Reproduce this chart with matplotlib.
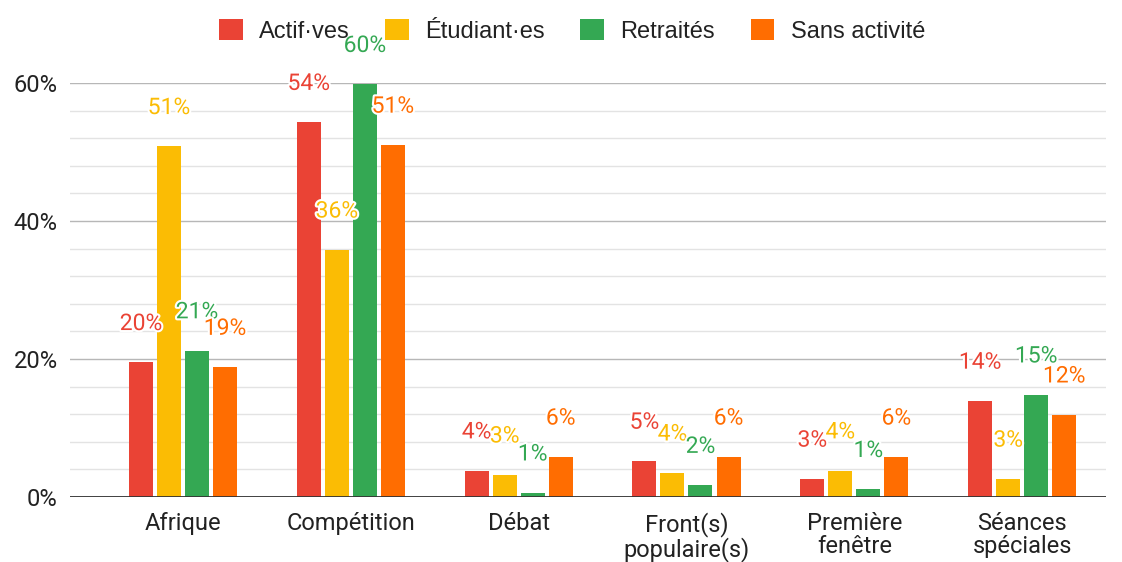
import matplotlib.pyplot as plt
import matplotlib.patheffects as pe
from matplotlib.patches import Patch
import numpy as np

plt.rcParams['font.family'] = ['Roboto', 'DejaVu Sans']

categories = ['Afrique', 'Compétition', 'Débat', 'Front(s)\npopulaire(s)',
              'Première\nfenêtre', 'Séances\nspéciales']
series = ['Actif·ves', 'Étudiant·es', 'Retraités', 'Sans activité']
actifs = [19.5, 54.3, 3.8, 5.2, 2.6, 13.9]
etudiants = [50.8, 35.8, 3.2, 3.5, 3.8, 2.6]
retraites = [21.2, 59.8, 0.6, 1.7, 1.1, 14.8]
sans_activite = [18.8, 51.0, 5.8, 5.8, 5.8, 11.9]
values = [actifs, etudiants, retraites, sans_activite]
colors = ['#ea4335', '#fbbc04', '#34a853', '#ff6d01']

fig = plt.figure(figsize=(11.22, 5.62), dpi=100)
ax = fig.add_axes([0.0624, 0.1157, 0.9234, 0.7367])

x = np.arange(len(categories))
step = 0.167
width = 0.143
for i, (vals, col) in enumerate(zip(values, colors)):
    pos = x + (i - 1.5) * step
    ax.bar(pos, vals, width=width, color=col, zorder=3)
    for px, v in zip(pos, vals):
        ax.annotate(f'{round(v):.0f}%', (px, v), xytext=(0, 28),
                    textcoords='offset points', ha='center', va='center',
                    fontsize=16.5, color=col, zorder=5, annotation_clip=False,
                    path_effects=[pe.withStroke(linewidth=3, foreground='white')])

ax.set_xlim(-0.673, 5.5)
ax.set_ylim(0, 60)
ax.set_yticks([0, 20, 40, 60])
ax.set_yticklabels(['0%', '20%', '40%', '60%'])
ax.set_yticks([v for v in range(4, 60, 4) if v % 20 != 0], minor=True)
ax.yaxis.grid(True, which='major', color='#b7b7b7', lw=1, zorder=0)
ax.yaxis.grid(True, which='minor', color='#e3e3e3', lw=1, zorder=0)
ax.set_xticks(x)
ax.set_xticklabels(categories, linespacing=1.0)
ax.tick_params(axis='both', which='both', length=0, labelsize=17, colors='#222222')
ax.tick_params(axis='y', pad=9)
ax.tick_params(axis='x', pad=11)
for s in ax.spines.values():
    s.set_visible(False)
ax.axhline(0, color='#333333', lw=1.3, zorder=4)

handles = [Patch(facecolor=c, edgecolor='none') for c in colors]
fig.legend(handles, series, loc='center', bbox_to_anchor=(572 / 1122, 0.945),
           ncol=4, frameon=False, handlelength=1.0, handleheight=1.0,
           handletextpad=0.7, columnspacing=1.5,
           prop={'family': ['Liberation Sans', 'DejaVu Sans'], 'size': 17},
           labelcolor='#222222')

fig.savefig('out.png', dpi=100)
